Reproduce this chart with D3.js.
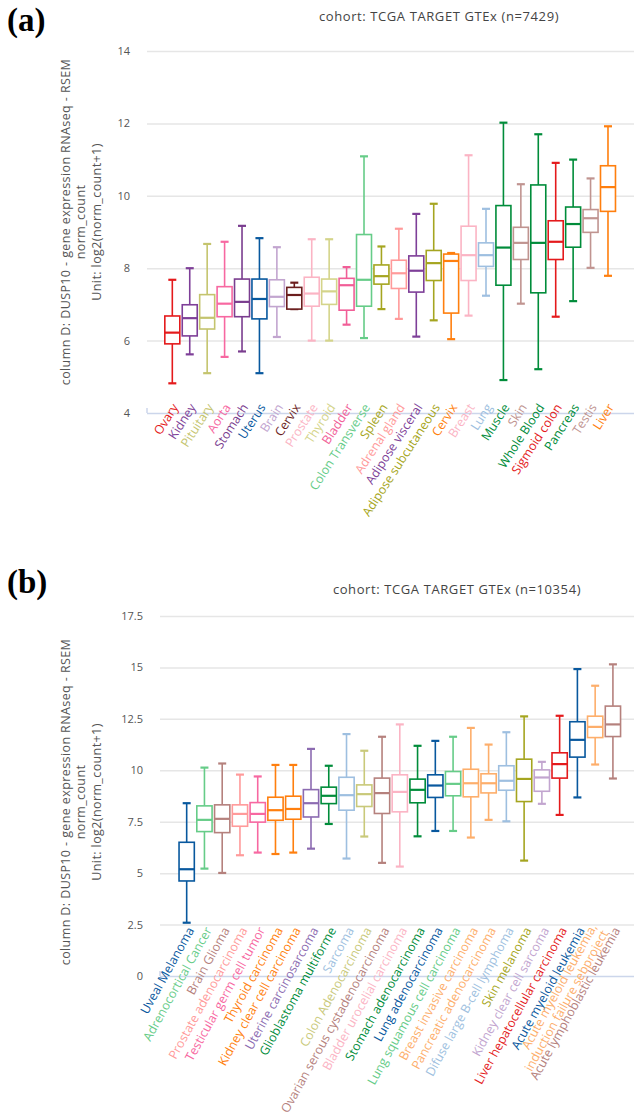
<!DOCTYPE html>
<html>
<head>
<meta charset="utf-8">
<script src="https://cdn.jsdelivr.net/npm/d3@7"></script>
<style>
  body { margin: 0; background: #fff; }
  svg { display: block; font-family: "Open Sans", sans-serif; }
</style>
</head>
<body>
<svg id="chart" width="634" height="1120"></svg>
<script>
// (a) GTEx normal tissues
const normalTissues = ["Ovary", "Kidney", "Pituitary", "Aorta", "Stomach", "Uterus", "Brain", "Cervix",
  "Prostate", "Thyroid", "Bladder", "Colon Transverse", "Spleen", "Adrenal gland", "Adipose visceral",
  "Adipose subcutaneous", "Cervix", "Breast", "Lung", "Muscle", "Skin", "Whole Blood", "Sigmoid colon",
  "Pancreas", "Testis", "Liver"];
const normalMin    = [4.82, 5.62, 5.10, 5.55, 5.70, 5.10, 6.10, 6.87, 6.00, 6.00, 6.44, 6.07, 6.87, 6.60, 6.11, 6.56, 6.04, 6.69, 7.24, 4.91, 7.02, 5.21, 6.66, 7.09, 8.01, 7.79];
const normalQ1     = [5.91, 6.13, 6.32, 6.66, 6.66, 6.60, 6.94, 6.87, 6.95, 7.00, 6.84, 6.95, 7.56, 7.44, 7.34, 7.66, 6.76, 7.66, 8.05, 7.53, 8.24, 7.32, 8.24, 8.58, 8.99, 9.57];
const normalMedian = [6.22, 6.62, 6.63, 7.02, 7.07, 7.15, 7.21, 7.26, 7.30, 7.36, 7.53, 7.68, 7.78, 7.86, 7.93, 8.14, 8.20, 8.36, 8.36, 8.57, 8.70, 8.70, 8.73, 9.22, 9.38, 10.24];
const normalQ3     = [6.68, 6.99, 7.27, 7.49, 7.70, 7.70, 7.68, 7.47, 7.75, 7.70, 7.72, 8.93, 8.09, 8.22, 8.34, 8.49, 8.39, 9.16, 8.70, 9.73, 9.13, 10.30, 9.31, 9.69, 9.62, 10.83];
const normalMax    = [7.68, 8.00, 8.67, 8.73, 9.17, 8.83, 8.58, 7.60, 8.80, 8.80, 8.03, 11.09, 8.60, 9.09, 9.50, 9.78, 8.42, 11.12, 9.64, 12.02, 10.32, 11.70, 10.91, 11.00, 10.48, 11.92];
const normalColors = ["#e41a1c", "#7e3f98", "#c4c46e", "#f768a1", "#7a3d8f", "#08589e", "#c2a5cf", "#6b1e1e",
  "#fbb4c4", "#d4d48a", "#f15e97", "#66cc88", "#a5a520", "#ff9a9a", "#7e3f98", "#a5a520", "#ff7f0e",
  "#fbb4c4", "#9ebfe0", "#008c3a", "#c09490", "#008c3a", "#e41a1c", "#008c3a", "#c09490", "#ff7f0e"];
const normalTicks = [4, 6, 8, 10, 12, 14];

// (b) TCGA / TARGET tumour types
const tumorTypes = ["Uveal Melanoma", "Adrenocortical Cancer", "Brain Glioma", "Prostate adenocarcinoma",
  "Testicular germ cell tumor", "Thyroid carcinoma", "Kidney clear cell carcinoma", "Uterine carcinosarcoma",
  "Glioblastoma multiforme", "Sarcoma", "Colon Adenocarcinoma", "Ovarian serous cystadenocarcinoma",
  "Bladder urocelial carcinoma", "Stomach adenocarcinoma", "Lung adenocarcinoma", "Lung squamous cell carcinoma",
  "Breast invasive carcinoma", "Pancreatic adenocarcinoma", "Difuse large B-cell lymphoma", "Skin melanoma",
  "Kidney clear cell sarcoma", "Liver hepatocellular carcinoma", "Acute myeloid leukemia",
  "Acute myeloid leukemia,\ninduction failure sebproject", "Acute lymphoblastic leukemia"];
const tumorMin    = [2.59, 5.22, 5.01, 5.87, 6.00, 5.93, 6.00, 6.19, 7.39, 5.71, 6.78, 5.50, 5.32, 6.79, 7.05, 7.05, 6.73, 7.59, 7.52, 5.61, 8.37, 7.83, 8.68, 10.28, 9.60];
const tumorQ1     = [4.62, 7.02, 6.97, 7.28, 7.48, 7.57, 7.62, 7.73, 8.38, 8.06, 8.24, 7.90, 7.98, 8.42, 8.68, 8.76, 8.71, 8.90, 9.03, 8.48, 8.98, 9.62, 10.64, 11.59, 11.64];
const tumorMedian = [5.19, 7.59, 7.64, 7.88, 7.88, 8.06, 8.12, 8.40, 8.76, 8.79, 8.84, 8.89, 8.95, 9.05, 9.26, 9.34, 9.37, 9.37, 9.49, 9.58, 9.65, 10.30, 11.48, 12.11, 12.23];
const tumorQ3     = [6.50, 8.27, 8.32, 8.32, 8.43, 8.69, 8.74, 9.06, 9.18, 9.66, 9.29, 9.62, 9.78, 9.57, 9.78, 9.94, 10.05, 9.83, 10.22, 10.54, 10.02, 10.85, 12.36, 12.63, 13.12];
const tumorMax    = [8.40, 10.13, 10.33, 9.79, 9.70, 10.26, 10.26, 11.04, 10.22, 11.76, 10.95, 11.63, 12.23, 11.19, 11.43, 11.63, 12.06, 11.25, 11.85, 12.62, 10.41, 12.65, 14.92, 14.11, 15.15];
const tumorColors = ["#08589e", "#66cc88", "#b5817d", "#ff9a9a", "#f768a1", "#ff7f0e", "#ff7f0e", "#8c6bb1",
  "#008c3a", "#9ebfe0", "#c9c97a", "#b5817d", "#fbb4c4", "#008c3a", "#08589e", "#66cc88", "#fdae6b",
  "#fdae6b", "#9ebfe0", "#a5a520", "#c2a5cf", "#e41a1c", "#08589e", "#fdae6b", "#b5817d"];
const tumorTicks = [0, 2.5, 5, 7.5, 10, 12.5, 15, 17.5];

const W = 634;
const svg = d3.select("#chart");

function drawPanel(p) {
  const n = p.names.length;
  const g = svg.append("g");

  const y = d3.scaleLinear().domain(p.yDomain).range(p.yRange);
  const x = d3.scaleBand()
    .domain(d3.range(n))
    .range(p.xRange)
    .paddingInner(0.14)
    .paddingOuter(0.07);

  // panel letter and title
  g.append("text")
    .attr("x", 7).attr("y", p.letterY)
    .attr("font-family", "'Liberation Serif', serif")
    .attr("font-weight", "bold").attr("font-size", 33)
    .attr("fill", "#000")
    .text(p.letter);
  g.append("text")
    .attr("x", p.titleX).attr("y", p.titleY)
    .attr("text-anchor", "middle").attr("font-size", 13)
    .attr("letter-spacing", 0.6)
    .attr("fill", "#444")
    .text(p.title);

  // y axis with grid lines
  const yAxis = g.append("g")
    .attr("transform", "translate(" + p.gridLeft + ",0)")
    .call(d3.axisLeft(y).tickValues(p.ticks).tickFormat(d => d)
      .tickSize(-(W - p.gridLeft)).tickPadding(17));
  yAxis.select(".domain").remove();
  yAxis.selectAll(".tick line")
    .attr("stroke", d => d === p.ticks[0] ? "#ccd6eb" : "#e6e6e6")
    .attr("stroke-width", 1.5);
  yAxis.selectAll(".tick text")
    .attr("font-family", "'Open Sans', sans-serif")
    .attr("font-size", 11).attr("fill", "#555");
  g.append("line")
    .attr("x1", p.gridLeft).attr("x2", p.gridLeft)
    .attr("y1", y(p.ticks[0]) - 5).attr("y2", y(p.ticks[0]))
    .attr("stroke", "#ccd6eb").attr("stroke-width", 1.5);

  // y axis title
  const yt = g.append("text")
    .attr("transform", "translate(81," + p.yTitleY + ") rotate(-90)")
    .attr("text-anchor", "middle").attr("font-size", 12.5)
    .attr("letter-spacing", 0.4).attr("fill", "#555");
  ["column D: DUSP10 - gene expression RNAseq - RSEM", "norm_count", "Unit: log2(norm_count+1)"]
    .forEach((s, i) => {
      yt.append("tspan").attr("x", 0).attr("y", (i - 1) * 15.5).attr("dy", "0.35em").text(s);
    });

  // boxes
  const bw = x.bandwidth();
  const boxes = g.selectAll(".box")
    .data(d3.range(n))
    .join("g")
    .attr("class", "box")
    .attr("transform", i => "translate(" + x(i) + ",0)")
    .attr("stroke", i => p.colors[i])
    .attr("fill", "none")
    .attr("stroke-width", 1.6);

  boxes.append("line")
    .attr("x1", bw / 2).attr("x2", bw / 2)
    .attr("y1", i => y(p.max[i])).attr("y2", i => y(p.q3[i]));
  boxes.append("line")
    .attr("x1", bw / 2).attr("x2", bw / 2)
    .attr("y1", i => y(p.q1[i])).attr("y2", i => y(p.min[i]));
  boxes.append("line")
    .attr("x1", bw / 2 - 4).attr("x2", bw / 2 + 4)
    .attr("y1", i => y(p.max[i])).attr("y2", i => y(p.max[i]))
    .attr("stroke-width", 2.2);
  boxes.append("line")
    .attr("x1", bw / 2 - 4).attr("x2", bw / 2 + 4)
    .attr("y1", i => y(p.min[i])).attr("y2", i => y(p.min[i]))
    .attr("stroke-width", 2.2);
  boxes.append("rect")
    .attr("x", 0).attr("width", bw)
    .attr("y", i => y(p.q3[i]))
    .attr("height", i => y(p.q1[i]) - y(p.q3[i]))
    .attr("fill", "#fff");
  boxes.append("line")
    .attr("x1", 0).attr("x2", bw)
    .attr("y1", i => y(p.median[i])).attr("y2", i => y(p.median[i]))
    .attr("stroke-width", 2.2);

  // rotated category labels
  const labels = g.selectAll(".xlabel")
    .data(d3.range(n))
    .join("text")
    .attr("class", "xlabel")
    .attr("transform", i => "translate(" + (x(i) + bw / 2 + p.labelDx) + "," + p.labelY + ") rotate(" + p.labelAngle + ")")
    .attr("text-anchor", "end")
    .attr("font-size", p.labelSize)
    .attr("fill", i => p.colors[i]);
  labels.each(function(i) {
    const lines = p.names[i].split("\n");
    const t = d3.select(this);
    lines.forEach((s, k) => {
      t.append("tspan")
        .attr("x", 0)
        .attr("y", (k - (lines.length - 1) / 2) * 13)
        .attr("dy", "0.35em")
        .text(s);
    });
  });
}

drawPanel({
  letter: "(a)", letterY: 31,
  title: "cohort: TCGA TARGET GTEx (n=7429)", titleX: 439, titleY: 21,
  names: normalTissues, colors: normalColors,
  min: normalMin, q1: normalQ1, median: normalMedian, q3: normalQ3, max: normalMax,
  ticks: normalTicks, yDomain: [4, 14], yRange: [413, 51],
  xRange: [163.6, 616.7], gridLeft: 147,
  yTitleY: 222, labelDx: 3, labelY: 405, labelAngle: -57, labelSize: 12.4
});

drawPanel({
  letter: "(b)", letterY: 593,
  title: "cohort: TCGA TARGET GTEx (n=10354)", titleX: 457, titleY: 594,
  names: tumorTypes, colors: tumorColors,
  min: tumorMin, q1: tumorQ1, median: tumorMedian, q3: tumorQ3, max: tumorMax,
  ticks: tumorTicks, yDomain: [0, 17.5], yRange: [976, 616],
  xRange: [177.8, 621.8], gridLeft: 160,
  yTitleY: 802, labelDx: 4, labelY: 928, labelAngle: -61, labelSize: 12.4
});
</script>
</body>
</html>
